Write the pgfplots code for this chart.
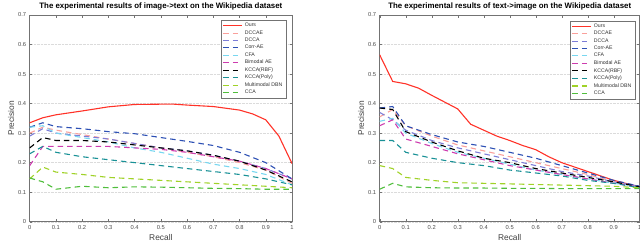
\documentclass[border=0pt]{standalone}
\usepackage{pgfplots}
\pgfplotsset{compat=1.18}
\usepackage{pgfplotstable}
\usepackage{fontspec}
\setmainfont{Liberation Sans}

\definecolor{cOurs}{RGB}{255,50,40}
\definecolor{cDCCAE}{RGB}{250,160,155}
\definecolor{cDCCA}{RGB}{125,125,215}
\definecolor{cCorr}{RGB}{45,80,180}
\definecolor{cCFA}{RGB}{120,215,240}
\definecolor{cBim}{RGB}{205,60,175}
\definecolor{cRBF}{RGB}{0,0,0}
\definecolor{cPoly}{RGB}{25,145,150}
\definecolor{cDBN}{RGB}{160,210,40}
\definecolor{cCCA}{RGB}{80,190,60}

% image -> text
\pgfplotstableread{
r ours
0 0.335
0.05 0.352
0.1 0.362
0.2 0.375
0.3 0.389
0.4 0.397
0.5 0.398
0.55 0.398
0.6 0.395
0.7 0.390
0.8 0.378
0.85 0.365
0.9 0.345
0.95 0.290
1 0.197
}\oursA
\pgfplotstableread{
r dccae dcca corr cfa bim rbf poly dbn cca
0    0.300 0.290 0.320 0.320 0.190 0.250 0.230 0.145 0.148
0.05 0.320 0.315 0.335 0.325 0.255 0.285 0.255 0.185 0.135
0.1  0.310 0.300 0.322 0.300 0.255 0.275 0.235 0.168 0.110
0.2  0.295 0.290 0.315 0.285 0.255 0.275 0.220 0.160 0.120
0.3  0.280 0.280 0.305 0.270 0.255 0.270 0.210 0.150 0.115
0.4  0.265 0.265 0.298 0.250 0.250 0.260 0.200 0.145 0.118
0.5  0.250 0.250 0.285 0.235 0.245 0.250 0.190 0.140 0.117
0.6  0.235 0.240 0.272 0.215 0.235 0.240 0.180 0.135 0.115
0.7  0.220 0.225 0.258 0.195 0.220 0.225 0.170 0.130 0.113
0.8  0.200 0.205 0.235 0.180 0.205 0.205 0.160 0.125 0.112
0.9  0.175 0.180 0.200 0.160 0.180 0.175 0.145 0.120 0.110
1    0.130 0.145 0.145 0.125 0.145 0.135 0.125 0.115 0.110
}\dashA

% text -> image
\pgfplotstableread{
r ours
0 0.565
0.05 0.475
0.1 0.467
0.15 0.452
0.2 0.428
0.25 0.405
0.3 0.382
0.35 0.330
0.4 0.310
0.45 0.290
0.5 0.275
0.55 0.258
0.6 0.244
0.65 0.220
0.7 0.200
0.8 0.170
0.9 0.140
1 0.118
}\oursB
\pgfplotstableread{
r dccae dcca corr cfa bim rbf poly dbn cca
0    0.355 0.370 0.385 0.340 0.325 0.385 0.275 0.190 0.110
0.05 0.380 0.345 0.390 0.350 0.345 0.380 0.275 0.180 0.130
0.1  0.325 0.310 0.325 0.300 0.280 0.305 0.235 0.150 0.118
0.2  0.290 0.275 0.295 0.265 0.255 0.270 0.215 0.140 0.115
0.3  0.260 0.250 0.270 0.235 0.230 0.240 0.200 0.132 0.114
0.4  0.240 0.230 0.255 0.215 0.210 0.215 0.190 0.130 0.114
0.5  0.220 0.210 0.235 0.195 0.190 0.200 0.175 0.128 0.113
0.6  0.200 0.190 0.215 0.175 0.175 0.180 0.165 0.126 0.113
0.7  0.180 0.170 0.190 0.160 0.160 0.165 0.155 0.124 0.112
0.8  0.160 0.155 0.165 0.145 0.145 0.150 0.140 0.122 0.112
0.9  0.135 0.135 0.140 0.130 0.130 0.135 0.130 0.120 0.112
1    0.120 0.120 0.120 0.118 0.118 0.118 0.115 0.115 0.112
}\dashB

\pgfplotsset{
  dsh/.style={dash pattern=on 5.5bp off 4bp},
  myaxis/.style={
    scale only axis,
    anchor=south west,
    height=206.7bp,
    xmin=0, xmax=1, ymin=0, ymax=0.7,
    xtick={0,0.1,...,1.01}, ytick={0,0.1,...,0.71},
    xticklabels={0,0.1,0.2,0.3,0.4,0.5,0.6,0.7,0.8,0.9,1},
    yticklabels={0,0.1,0.2,0.3,0.4,0.5,0.6,0.7},
    tick align=inside,
    major tick length=2.5bp,
    axis line style={draw=black!55, line width=0.5bp},
    tick style={draw=black!55, line width=0.4bp},
    ymajorgrids,
    grid style={densely dotted, draw=black!14, line width=0.4bp},
    ticklabel style={font=\fontsize{5.8}{6.5}\selectfont, text=black!70},
    /pgf/number format/assume math mode=true,
    xlabel={Recall},
    ylabel={Precision},
    label style={font=\fontsize{8.4}{9}\selectfont, text=black!75},
    xlabel style={yshift=2bp},
    ylabel style={yshift=-3bp},
    title style={font=\bfseries\fontsize{7.9}{8.5}\selectfont, yshift=-4.5bp},
    legend cell align=left,
    legend style={font=\fontsize{5.2}{6}\selectfont, draw=black!55, line width=0.4bp,
      inner xsep=1.5bp, inner ysep=0.8bp, row sep=-1.7bp, text=black!80},
    every axis plot/.append style={line width=1.1bp},
  }
}

\begin{document}
\begin{tikzpicture}[x=1bp,y=1bp]
\useasboundingbox (0bp,0bp) rectangle (640bp,249bp);
\begin{axis}[myaxis, at={(29.7bp,27.3bp)}, width=262.3bp,
  title={The experimental results of image->text on the Wikipedia dataset},
  legend style={at={(0.977,0.975)}, anchor=north east}]
\addplot[cOurs, no marks, legend image code/.code={\draw[cOurs,line width=1.1bp] (0bp,0bp) -- (19bp,0bp);}] table[x=r,y=ours]{\oursA};
\addplot[cDCCAE, dsh, no marks] table[x=r,y=dccae]{\dashA};
\addplot[cDCCA, dsh, no marks] table[x=r,y=dcca]{\dashA};
\addplot[cCorr, dsh, no marks] table[x=r,y=corr]{\dashA};
\addplot[cCFA, dsh, no marks] table[x=r,y=cfa]{\dashA};
\addplot[cBim, dsh, no marks] table[x=r,y=bim]{\dashA};
\addplot[cRBF, dsh, no marks] table[x=r,y=rbf]{\dashA};
\addplot[cPoly, dsh, no marks] table[x=r,y=poly]{\dashA};
\addplot[cDBN, dsh, no marks] table[x=r,y=dbn]{\dashA};
\addplot[cCCA, dsh, no marks] table[x=r,y=cca]{\dashA};
\legend{Ours,DCCAE,DCCA,Corr-AE,CFA,Bimodal AE,KCCA(RBF),KCCA(Poly),Multimodal DBN,CCA}
\end{axis}
\begin{axis}[myaxis, at={(379.7bp,27.3bp)}, width=260bp,
  title={The experimental results of text->image on the Wikipedia dataset},
  legend style={at={(0.982,0.972)}, anchor=north east}]
\addplot[cOurs, no marks, legend image code/.code={\draw[cOurs,line width=1.1bp] (0bp,0bp) -- (19bp,0bp);}] table[x=r,y=ours]{\oursB};
\addplot[cDCCAE, dsh, no marks] table[x=r,y=dccae]{\dashB};
\addplot[cDCCA, dsh, no marks] table[x=r,y=dcca]{\dashB};
\addplot[cCorr, dsh, no marks] table[x=r,y=corr]{\dashB};
\addplot[cCFA, dsh, no marks] table[x=r,y=cfa]{\dashB};
\addplot[cBim, dsh, no marks] table[x=r,y=bim]{\dashB};
\addplot[cRBF, dsh, no marks] table[x=r,y=rbf]{\dashB};
\addplot[cPoly, dsh, no marks] table[x=r,y=poly]{\dashB};
\addplot[cDBN, dsh, no marks] table[x=r,y=dbn]{\dashB};
\addplot[cCCA, dsh, no marks] table[x=r,y=cca]{\dashB};
\legend{Ours,DCCAE,DCCA,Corr-AE,CFA,Bimodal AE,KCCA(RBF),KCCA(Poly),Multimodal DBN,CCA}
\end{axis}
\end{tikzpicture}
\end{document}
